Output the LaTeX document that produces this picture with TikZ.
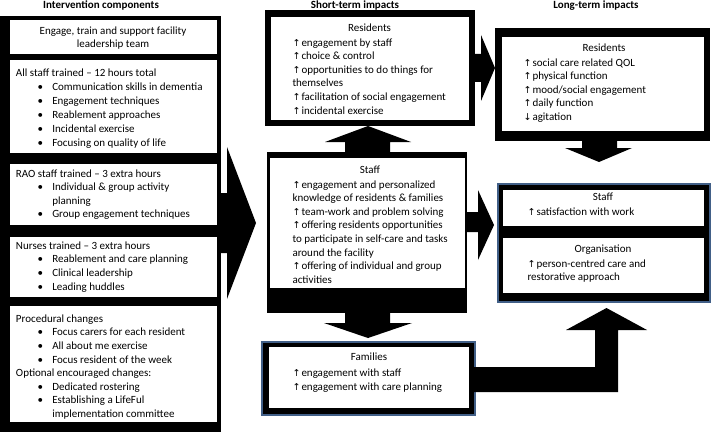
\documentclass[tikz,border=0pt]{standalone}
\usepackage{fontspec}
\setmainfont{Carlito}
\newfontfamily\symf{DejaVu Sans}
\newcommand\UP{\makebox[9pt][l]{\symf\fontsize{9.5}{9.5}\selectfont ↑}}
\newcommand\DN{\makebox[9pt][l]{\symf\fontsize{9.5}{9.5}\selectfont ↓}}
\newcommand\itm[1]{\hspace*{21.5pt}\makebox[14.8pt][l]{•}#1}
\newcommand\cont[1]{\hspace*{36.3pt}#1}
\definecolor{frameblue}{RGB}{65,95,135}
\begin{document}
\begin{tikzpicture}[x=1pt,y=-1pt,
  blk/.style={fill=black,draw=none,inner sep=0pt,outer sep=0pt,anchor=north west},
  wht/.style={fill=white,draw=none,inner sep=0pt,outer sep=0pt,anchor=north west},
  bluebox/.style={fill=black,draw=frameblue,line width=2pt,inner sep=0pt,outer sep=0pt,anchor=north west},
  tx/.style={inner sep=0pt,outer sep=0pt,align=left,anchor=north west,font=\fontsize{11}{13.6}\selectfont},
  ttl/.style={inner sep=0pt,anchor=base,font=\fontsize{11}{13.6}\selectfont\bfseries},
  hd/.style={inner sep=0pt,anchor=base,font=\fontsize{11}{13.6}\selectfont},
  fat/.style={fill=black,draw=none}]
\useasboundingbox[fill=white] (0,0) rectangle (711,433);

% titles
\node[ttl] (t1) at (101,8.5) {Intervention components};
\node[ttl] (t2) at (355,8.5) {Short-term impacts};
\node[ttl] (t3) at (596,8.5) {Long-term impacts};

% left column
\node[blk,minimum width=221pt,minimum height=416pt] (frameL) at (0,16) {};
\node[wht,minimum width=206.7pt,minimum height=34pt] (b1) at (10,20) {};
\node[wht,minimum width=206.7pt,minimum height=93pt] (b2) at (10,60) {};
\node[wht,minimum width=206.7pt,minimum height=61pt] (b3) at (10,164) {};
\node[wht,minimum width=206.7pt,minimum height=60pt] (b4) at (10,237) {};
\node[wht,minimum width=206.7pt,minimum height=115.7pt] (b5) at (10,306) {};

\node[tx,align=center,anchor=north] (b1t) at (113,24.5) {\strut Engage, train and support facility\\leadership team};
\node[tx,font=\fontsize{11}{14}\selectfont] (b2t) at (16,66.2) {\strut All staff trained – 12 hours total\\[0.7pt]
\itm{Communication skills in dementia}\\
\itm{Engagement techniques}\\
\itm{Reablement approaches}\\
\itm{Incidental exercise}\\
\itm{Focusing on quality of life}};
\node[tx] (b3t) at (16,167.5) {\strut RAO staff trained – 3 extra hours\\
\itm{Individual \& group activity}\\
\cont{planning}\\
\itm{Group engagement techniques}};
\node[tx] (b4t) at (16,239.8) {\strut Nurses trained – 3 extra hours\\
\itm{Reablement and care planning}\\
\itm{Clinical leadership}\\
\itm{Leading huddles}};
\node[tx] (b5t) at (16,312.8) {\strut Procedural changes\\
\itm{Focus carers for each resident}\\
\itm{All about me exercise}\\
\itm{Focus resident of the week}\\
Optional encouraged changes:\\
\itm{Dedicated rostering}\\
\itm{Establishing a LifeFul}\\
\cont{implementation committee}};

% middle column
\node[blk,minimum width=210pt,minimum height=116pt] (resO) at (265,10) {};
\node[wht,minimum width=198pt,minimum height=103pt] (resI) at (271,17) {};
\node[blk,minimum width=200pt,minimum height=161pt] (staffO) at (267,152) {};
\node[wht,minimum width=194.5pt,minimum height=130pt] (staffI) at (270,158) {};
\node[bluebox,minimum width=213pt,minimum height=73pt] (famO) at (262,342) {};
\node[wht,minimum width=200pt,minimum height=61pt] (famI) at (269,347) {};

\node[hd] (resH) at (369.5,31.5) {Residents};
\node[tx] (resT) at (292.5,36.5) {\strut\UP engagement by staff\\
\UP choice \& control\\
\UP opportunities to do things for\\
themselves\\
\UP facilitation of social engagement\\
\UP incidental exercise};

\node[hd] (staffH) at (370,173) {Staff};
\node[tx] (staffT) at (292.5,178.5) {\strut\UP engagement and personalized\\
knowledge of residents \& families\\
\UP team-work and problem solving\\
\UP offering residents opportunities\\
to participate in self-care and tasks\\
around the facility\\
\UP offering of individual and group\\
activities};

\node[hd] (famH) at (369,360.7) {Families};
\node[tx,font=\fontsize{11}{14.5}\selectfont] (famT) at (292.5,366) {\strut\UP engagement with staff\\
\UP engagement with care planning};

% right column
\node[blk,minimum width=215pt,minimum height=113pt] (ltrO) at (495,28) {};
\node[wht,minimum width=202pt,minimum height=94pt] (ltrI) at (502,37) {};
\node[bluebox,minimum width=212pt,minimum height=118pt] (ltsO) at (498,184) {};
\node[wht,minimum width=201pt,minimum height=36pt] (ltsI) at (503,190) {};
\node[wht,minimum width=201pt,minimum height=55pt] (ltoI) at (503,238) {};

\node[hd] (ltrH) at (604,51.5) {Residents};
\node[tx] (ltrT) at (523.5,56.5) {\strut\UP social care related QOL\\
\UP physical function\\
\UP mood/social engagement\\
\UP daily function\\
\DN agitation};

\node[hd] (ltsH) at (603,200) {Staff};
\node[tx] (ltsT) at (527.5,205.8) {\strut\UP satisfaction with work};
\node[hd] (ltoH) at (603,252.3) {Organisation};
\node[tx] (ltoT) at (527.5,257.5) {\strut\UP person-centred care and\\
restorative approach};

% block arrows
\fill[fat] (221,193) -- (227,193) -- (227,147) -- (256,223) -- (227,299) -- (227,253) -- (221,253) -- cycle;
\fill[fat] (474,54) -- (481,54) -- (481,35) -- (495,68) -- (481,101) -- (481,82) -- (474,82) -- cycle;
\fill[fat] (466,212) -- (478,212) -- (478,190) -- (494,225) -- (478,260) -- (478,232) -- (466,232) -- cycle;
\fill[fat] (345,153) -- (345,142) -- (325,142) -- (368,126) -- (411,142) -- (390,142) -- (390,153) -- cycle;
\fill[fat] (345,312) -- (345,323) -- (324,323) -- (368,338) -- (412,323) -- (390,323) -- (390,312) -- cycle;
\fill[fat] (582,140) -- (582,148) -- (565,148) -- (599,162) -- (632,148) -- (617,148) -- (617,140) -- cycle;
\fill[fat] (474,367) -- (595,367) -- (595,330) -- (566,330) -- (606.5,308) -- (647,330) -- (618,330) -- (618,392) -- (474,392) -- cycle;
\end{tikzpicture}
\end{document}
